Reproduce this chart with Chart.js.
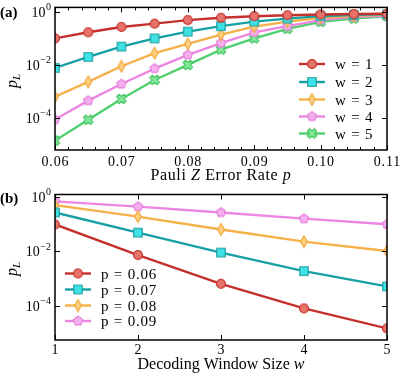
<!DOCTYPE html>
<html lang="en">
<head>
<meta charset="UTF-8">
<title>Logical error rate vs physical error rate and window size</title>
<script src="https://cdn.jsdelivr.net/npm/chart.js@4.4.0"></script>
<style>
    html, body { margin: 0; padding: 0; background: #fff; }
    #wrap { position: relative; width: 405px; height: 378px; }
    canvas { position: absolute; left: 0; }
    #chartA { top: 0; }
    #chartB { top: 185px; }
</style>
</head>
<body>
<div id="wrap">
    <canvas id="chartA" width="405" height="185"></canvas>
    <canvas id="chartB" width="405" height="193"></canvas>
</div>
<script>
// ---- panel (a): p_L vs physical error rate p, one series per window size
const rateP = [0.06, 0.065, 0.07, 0.075, 0.08, 0.085, 0.09, 0.095, 0.10, 0.105, 0.11];
const pLw1 = [0.10, 0.17, 0.27, 0.36, 0.49, 0.60, 0.69, 0.75, 0.80, 0.83, 0.85];
const pLw2 = [0.0077, 0.020, 0.049, 0.10, 0.18, 0.29, 0.43, 0.56, 0.69, 0.77, 0.81];
const pLw3 = [6.3e-4, 2.3e-3, 8.9e-3, 0.028, 0.062, 0.14, 0.28, 0.43, 0.60, 0.72, 0.79];
const pLw4 = [8.7e-5, 4.5e-4, 1.9e-3, 7.3e-3, 0.024, 0.067, 0.17, 0.29, 0.49, 0.65, 0.72];
const pLw5 = [1.4e-5, 8.5e-5, 5.2e-4, 2.7e-3, 0.010, 0.038, 0.10, 0.23, 0.42, 0.56, 0.69];
const labelsA = ['w = 1', 'w = 2', 'w = 3', 'w = 4', 'w = 5'];
const xTicksA = [0.06, 0.07, 0.08, 0.09, 0.10, 0.11];

// ---- panel (b): p_L vs window size w, one series per p
const windowW = [1, 2, 3, 4, 5];
const pLp06 = [0.098, 7.4e-3, 6.5e-4, 8.1e-5, 1.5e-5];
const pLp07 = [0.27, 0.049, 9.1e-3, 1.9e-3, 5.2e-4];
const pLp08 = [0.50, 0.19, 0.064, 0.023, 0.0104];
const pLp09 = [0.69, 0.44, 0.27, 0.16, 0.10];
const labelsB = ['p = 0.06', 'p = 0.07', 'p = 0.08', 'p = 0.09'];
const xTicksB = [1, 2, 3, 4, 5];

const yTicks = [1, 1e-2, 1e-4];
const yTickExp = ['0', '\u22122', '\u22124'];

const SERIF = "'Liberation Serif', 'DejaVu Serif', serif";

// line colour, marker fill, marker edge
const styles = [
    { line: '#c4302b', fill: '#e8736b', edge: '#c4302b', shape: 'circle' },
    { line: '#17a0a3', fill: '#3fe3e6', edge: '#14989b', shape: 'square' },
    { line: '#f6b048', fill: '#fcd07e', edge: '#f1a436', shape: 'diamond' },
    { line: '#ec86e2', fill: '#f4b0ee', edge: '#e57ddb', shape: 'pentagon' },
    { line: '#4fd06d', fill: '#86ea9c', edge: '#3fc25e', shape: 'x' }
];

function marker(s) {
    const c = document.createElement('canvas');
    c.width = 14; c.height = 14;
    const g = c.getContext('2d');
    g.translate(7, 7);
    g.beginPath();
    if (s.shape === 'circle') {
        g.arc(0, 0, 4.5, 0, Math.PI * 2);
    } else if (s.shape === 'square') {
        g.rect(-4.2, -4.2, 8.4, 8.4);
    } else if (s.shape === 'diamond') {
        g.moveTo(0, -5.8); g.lineTo(3.4, 0); g.lineTo(0, 5.8); g.lineTo(-3.4, 0);
        g.closePath();
    } else if (s.shape === 'pentagon') {
        for (let i = 0; i < 5; i++) {
            const t = -Math.PI / 2 + i * 2 * Math.PI / 5;
            g.lineTo(4.8 * Math.cos(t), 4.8 * Math.sin(t));
        }
        g.closePath();
    } else {
        g.rotate(Math.PI / 4);
        const h = 1.7, L = 5;
        const pts = [[-h,-L],[h,-L],[h,-h],[L,-h],[L,h],[h,h],[h,L],[-h,L],[-h,h],[-L,h],[-L,-h],[-h,-h]];
        pts.forEach(([px, py]) => g.lineTo(px, py));
        g.closePath();
    }
    g.fillStyle = s.fill;
    g.fill();
    g.lineWidth = 1.1;
    g.strokeStyle = s.edge;
    g.stroke();
    return c;
}
const markers = styles.map(marker);

function series(xs, ys, i, label) {
    return {
        label: label,
        data: xs.map((x, k) => ({ x: x, y: ys[k] })),
        borderColor: styles[i].line,
        borderWidth: 2.4,
        pointStyle: markers[i],
        pointRadius: 5,
        clip: 0,
        tension: 0
    };
}

// draws a run of text pieces (some italic) starting at x, aligned by mode
function richText(ctx, parts, x, y, size, align) {
    const widths = parts.map(p => {
        ctx.font = (p.i ? 'italic ' : '') + size + 'px ' + SERIF;
        return ctx.measureText(p.t).width;
    });
    const total = widths.reduce((a, b) => a + b, 0);
    let cx = align === 'center' ? x - total / 2 : x;
    parts.forEach((p, k) => {
        ctx.font = (p.i ? 'italic ' : '') + size + 'px ' + SERIF;
        ctx.fillText(p.t, cx, y);
        cx += widths[k];
    });
}

const decor = {
    id: 'decor',
    afterDatasetsDraw(chart, args, o) {
        const { ctx, chartArea: a, scales: { x, y } } = chart;
        ctx.save();
        ctx.strokeStyle = '#000';
        ctx.lineWidth = 1;
        const tick = (px, len, vertical) => {
            ctx.beginPath();
            if (vertical) {
                ctx.moveTo(px, a.bottom); ctx.lineTo(px, a.bottom - len);
                ctx.moveTo(px, a.top); ctx.lineTo(px, a.top + len);
            } else {
                ctx.moveTo(a.left, px); ctx.lineTo(a.left + len, px);
                ctx.moveTo(a.right, px); ctx.lineTo(a.right - len, px);
            }
            ctx.stroke();
        };
        o.xMinor.forEach(v => tick(Math.round(x.getPixelForValue(v)) + 0.5, 3, true));
        o.xTicks.forEach(v => tick(Math.round(x.getPixelForValue(v)) + 0.5, 5, true));
        yTicks.forEach(v => tick(Math.round(y.getPixelForValue(v)) + 0.5, 5, false));
        ctx.lineWidth = 1.5;
        ctx.strokeRect(a.left, a.top, a.width, a.height);

        // tick labels
        ctx.fillStyle = '#000';
        ctx.textBaseline = 'alphabetic';
        ctx.textAlign = 'center';
        ctx.font = '14px ' + SERIF;
        ctx.letterSpacing = '0.8px';
        o.xTicks.forEach(v => {
            ctx.fillText(o.xFmt(v), x.getPixelForValue(v) + 0.4, a.bottom + o.xLabelGap);
        });
        ctx.letterSpacing = '0px';
        ctx.textAlign = 'left';
        yTicks.forEach((v, k) => {
            const py = y.getPixelForValue(v);
            ctx.font = '10px ' + SERIF;
            const ew = ctx.measureText(yTickExp[k]).width;
            ctx.font = '14px ' + SERIF;
            const bw = ctx.measureText('10').width;
            const right = a.left - 4;
            ctx.fillText('10', right - ew - bw - 0.5, py + 4.8);
            ctx.font = '10px ' + SERIF;
            ctx.fillText(yTickExp[k], right - ew, py - 1.5);
        });

        // axis titles
        ctx.letterSpacing = o.xTitleSpacing;
        richText(ctx, o.xTitle, (a.left + a.right) / 2, o.xTitleY, 16, 'center');
        ctx.letterSpacing = '0px';
        ctx.save();
        ctx.translate(17, o.yTitleY);
        ctx.rotate(-Math.PI / 2);
        ctx.font = 'italic 16px ' + SERIF;
        const pw = ctx.measureText('p').width;
        ctx.fillText('p', -pw / 2 - 4, 0);
        ctx.font = 'italic 11px ' + SERIF;
        ctx.fillText('L', pw / 2 - 4, 3);
        ctx.restore();

        // panel tag
        ctx.font = 'bold 15px ' + SERIF;
        ctx.fillText(o.tag, 0, o.tagY);

        // legend
        chart.data.datasets.forEach((ds, k) => {
            const ly = o.legY[k];
            ctx.strokeStyle = ds.borderColor;
            ctx.lineWidth = 2.4;
            ctx.beginPath();
            ctx.moveTo(o.legX, ly);
            ctx.lineTo(o.legX + 26, ly);
            ctx.stroke();
            ctx.drawImage(markers[k], o.legX + 13 - 7, ly - 7);
            ctx.fillStyle = '#000';
            ctx.font = '15px ' + SERIF;
            ctx.letterSpacing = '0.8px';
            ctx.fillText(ds.label, o.legX + 36, ly + 5);
            ctx.letterSpacing = '0px';
        });
        ctx.restore();
    }
};

function minorTicks(lo, hi, step) {
    const out = [];
    for (let v = lo; v <= hi + 1e-9; v += step) out.push(v);
    return out;
}

new Chart(document.getElementById('chartA'), {
    type: 'line',
    data: {
        datasets: [pLw1, pLw2, pLw3, pLw4, pLw5].map((ys, i) => series(rateP, ys, i, labelsA[i]))
    },
    options: {
        responsive: false,
        animation: false,
        layout: { padding: { left: 55, right: 18, top: 5, bottom: 35 } },
        scales: {
            x: { type: 'linear', display: false, min: 0.06, max: 0.11 },
            y: { type: 'logarithmic', display: false, min: Math.pow(10, -5.21), max: Math.pow(10, 0.17) }
        },
        plugins: {
            legend: { display: false },
            tooltip: { enabled: false },
            decor: {
                xTicks: xTicksA,
                xMinor: minorTicks(0.06, 0.11, 0.002),
                xFmt: v => v.toFixed(2),
                xLabelGap: 15.5,
                xTitle: [{ t: 'Pauli ' }, { t: 'Z', i: true }, { t: ' Error Rate ' }, { t: 'p', i: true }],
                xTitleSpacing: '0.6px',
                xTitleY: 180,
                yTitleY: 80,
                tag: '(a)',
                tagY: 17,
                legX: 299,
                legY: [64, 82, 99.5, 116.5, 133.5]
            }
        }
    },
    plugins: [decor]
});

new Chart(document.getElementById('chartB'), {
    type: 'line',
    data: {
        datasets: [pLp06, pLp07, pLp08, pLp09].map((ys, i) => series(windowW, ys, i, labelsB[i]))
    },
    options: {
        responsive: false,
        animation: false,
        layout: { padding: { left: 55, right: 18, top: 9.5, bottom: 38 } },
        scales: {
            x: { type: 'linear', display: false, min: 1, max: 5 },
            y: { type: 'logarithmic', display: false, min: Math.pow(10, -5.25), max: Math.pow(10, 0.09) }
        },
        plugins: {
            legend: { display: false },
            tooltip: { enabled: false },
            decor: {
                xTicks: xTicksB,
                xMinor: [],
                xFmt: v => String(v),
                xLabelGap: 13.5,
                xTitle: [{ t: 'Decoding Window Size ' }, { t: 'w', i: true }],
                xTitleSpacing: '0px',
                xTitleY: 184,
                yTitleY: 83,
                tag: '(b)',
                tagY: 17.5,
                legX: 65,
                legY: [88.5, 104.5, 120.5, 136]
            }
        }
    },
    plugins: [decor]
});
</script>
</body>
</html>
